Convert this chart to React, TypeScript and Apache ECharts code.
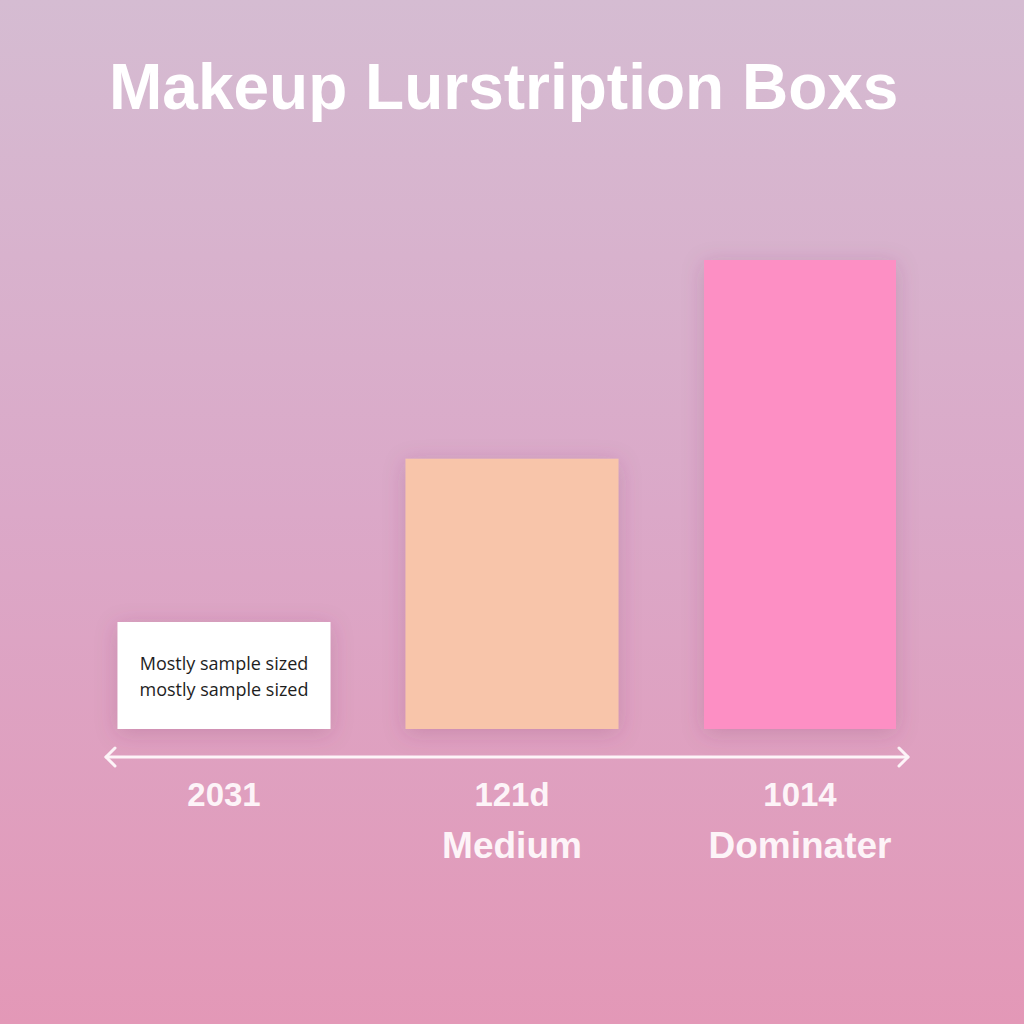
import { useEffect, useRef } from "react";
import * as echarts from "echarts";

// categories, values (share of the tallest box) and axis labels
const categories = ["Small", "Medium", "Dominater"];
const values = [22.8, 57.6, 100];
const tickNumbers = ["2031", "121d", "1014"];
const tickWords = ["", "Medium", "Dominater"];
const barColors = ["#ffffff", "#f8c5aa", "#fd8fc4"];
const insideNote = "Mostly sample sized\nmostly sample sized";

const TEXT_WHITE = "#fdf4f8";
const FONT = "Liberation Sans";

const shadow = {
  shadowBlur: 22,
  shadowColor: "rgba(120, 50, 100, 0.22)",
  shadowOffsetY: 4,
};

function item(i: number) {
  return {
    value: values[i],
    itemStyle: { color: barColors[i] },
    label:
      i === 0
        ? {
            show: true,
            position: "inside",
            formatter: insideNote,
            color: "#1e1e1e",
            fontSize: 18,
            lineHeight: 26,
            fontFamily: "Open Sans",
          }
        : { show: false },
  };
}

function buildOption(): echarts.EChartsCoreOption {
  // the last box is a little narrower, so it sits on its own (hidden) axis
  const wideData = values.map((_, i) => (i < 2 ? item(i) : "-"));
  const narrowData = values.map((_, i) => (i === 2 ? item(i) : "-"));

  const y = 757;
  const x0 = 106;
  const x1 = 908;
  const lineStyle = { stroke: TEXT_WHITE, lineWidth: 3, fill: null, lineCap: "round", lineJoin: "round" };

  return {
    animation: false,
    backgroundColor: {
      type: "linear",
      x: 0,
      y: 0,
      x2: 0,
      y2: 1,
      colorStops: [
        { offset: 0, color: "#d5bcd2" },
        { offset: 0.5, color: "#dba8c8" },
        { offset: 1, color: "#e398b7" },
      ],
    },
    title: {
      text: "Makeup Lurstription Boxs",
      left: 104,
      top: 50,
      textStyle: {
        color: "#ffffff",
        fontSize: 64,
        fontWeight: "bold",
        fontFamily: FONT,
      },
    },
    grid: { left: 80, right: 80, top: 260, bottom: 295 },
    xAxis: [
      {
        type: "category",
        data: categories,
        axisLine: { show: false },
        axisTick: { show: false },
        axisLabel: {
          margin: 40,
          verticalAlign: "top",
          formatter: (_: string, idx: number) =>
            tickWords[idx]
              ? `{n|${tickNumbers[idx]}}\n{w|${tickWords[idx]}}`
              : `{n|${tickNumbers[idx]}}`,
          rich: {
            n: {
              color: TEXT_WHITE,
              fontSize: 33,
              fontWeight: "bold",
              fontFamily: FONT,
              lineHeight: 51,
            },
            w: {
              color: TEXT_WHITE,
              fontSize: 37,
              fontWeight: "bold",
              fontFamily: FONT,
              lineHeight: 51,
            },
          },
        },
      },
      { type: "category", data: categories, show: false },
    ],
    yAxis: { type: "value", min: 0, max: 100, show: false },
    series: [
      {
        type: "bar",
        xAxisIndex: 0,
        barWidth: 213,
        data: wideData,
        itemStyle: shadow,
      },
      {
        type: "bar",
        xAxisIndex: 1,
        barWidth: 192,
        data: narrowData,
        itemStyle: shadow,
      },
    ],
    graphic: [
      {
        type: "group",
        silent: true,
        children: [
          { type: "line", shape: { x1: x0, y1: y, x2: x1, y2: y }, style: lineStyle },
          {
            type: "polyline",
            shape: { points: [[x0 + 9, y - 9], [x0, y], [x0 + 9, y + 9]] },
            style: lineStyle,
          },
          {
            type: "polyline",
            shape: { points: [[x1 - 9, y - 9], [x1, y], [x1 - 9, y + 9]] },
            style: lineStyle,
          },
        ],
      },
    ],
  };
}

export default function App() {
  const ref = useRef<HTMLDivElement | null>(null);

  useEffect(() => {
    const el = ref.current;
    if (!el) return;
    const chart = echarts.init(el, undefined, { renderer: "svg" });
    chart.setOption(buildOption());
    return () => chart.dispose();
  }, []);

  return (
    <div
      ref={ref}
      style={{ position: "absolute", left: 0, top: 0, width: 1024, height: 1024 }}
    />
  );
}
